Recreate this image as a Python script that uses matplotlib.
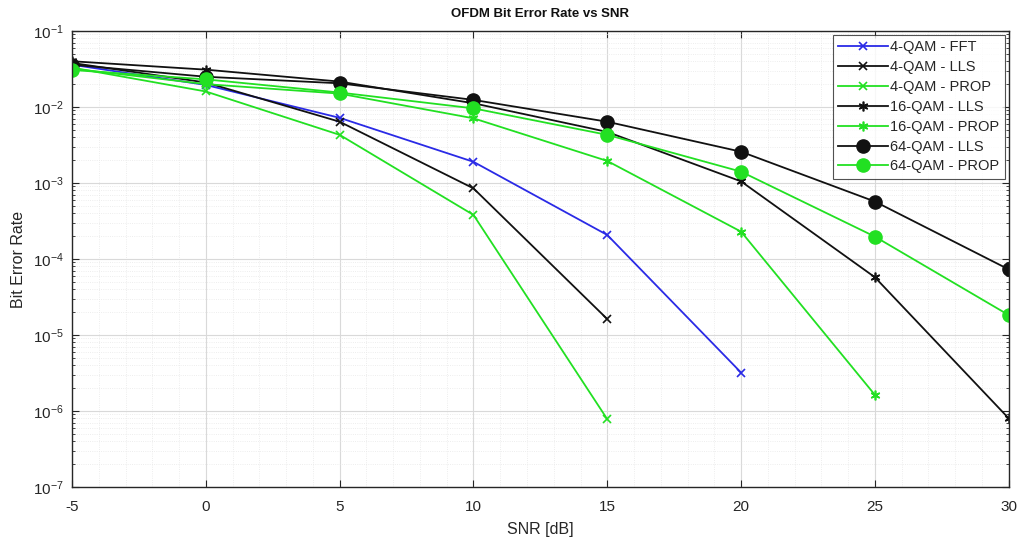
import numpy as np
import matplotlib
matplotlib.use("Agg")
import matplotlib.pyplot as plt
from matplotlib.ticker import LogLocator, NullFormatter, FixedLocator

# SNR sweep (dB)
snr = [-5, 0, 5, 10, 15, 20, 25, 30]

# Measured bit error rates per scheme (shorter lists: no errors at higher SNR)
ber_4qam_fft = [0.036, 0.0195, 0.0072, 0.0019, 2.07e-4, 3.2e-6]
ber_4qam_lls = [0.038, 0.021, 0.0064, 8.5e-4, 1.62e-5]
ber_4qam_prop = [0.033, 0.016, 0.0043, 3.8e-4, 7.8e-7]
ber_16qam_lls = [0.040, 0.031, 0.0216, 0.0112, 0.0047, 0.00105, 5.75e-5, 8.0e-7]
ber_16qam_prop = [0.032, 0.020, 0.015, 0.0071, 0.00195, 2.29e-4, 1.63e-6]
ber_64qam_lls = [0.036, 0.025, 0.0205, 0.0124, 0.0064, 0.00258, 5.7e-4, 7.3e-5]
ber_64qam_prop = [0.0307, 0.0231, 0.0155, 0.0096, 0.0043, 0.00141, 1.97e-4, 1.83e-5]

labels = ["4-QAM - FFT", "4-QAM - LLS", "4-QAM - PROP", "16-QAM - LLS",
          "16-QAM - PROP", "64-QAM - LLS", "64-QAM - PROP"]

BLUE = "#2a2ae6"
GREEN = "#22e022"
BLACK = "#111111"
ASTERISK = (6, 2, 0)

series = [
    (ber_4qam_fft, dict(color=BLUE, marker="x", ms=6, mew=1.2)),
    (ber_4qam_lls, dict(color=BLACK, marker="x", ms=6, mew=1.2)),
    (ber_4qam_prop, dict(color=GREEN, marker="x", ms=6, mew=1.2)),
    (ber_16qam_lls, dict(color=BLACK, marker=ASTERISK, ms=7, mew=1.2)),
    (ber_16qam_prop, dict(color=GREEN, marker=ASTERISK, ms=7, mew=1.2)),
    (ber_64qam_lls, dict(color=BLACK, marker="o", ms=9.5, mew=1.0)),
    (ber_64qam_prop, dict(color=GREEN, marker="o", ms=9.5, mew=1.0)),
]

plt.rcParams["font.family"] = ["Liberation Sans", "DejaVu Sans"]
plt.rcParams["axes.unicode_minus"] = False

fig = plt.figure(figsize=(10.22, 5.41), dpi=100)
ax = fig.add_axes([0.0705, 0.0998, 0.9165, 0.8429])

for (vals, style), lab in zip(series, labels):
    ax.semilogy(snr[:len(vals)], vals, linestyle="-", lw=1.3,
                markerfacecolor=style["color"], markeredgecolor=style["color"],
                label=lab, **style)

ax.set_xlim(-5, 30)
ax.set_ylim(1e-7, 1e-1)
ax.set_xticks([-5, 0, 5, 10, 15, 20, 25, 30])
ax.yaxis.set_major_locator(LogLocator(base=10, numticks=10))
ax.yaxis.set_minor_locator(LogLocator(base=10, subs=np.arange(2, 10), numticks=100))
ax.yaxis.set_minor_formatter(NullFormatter())
ax.xaxis.set_minor_locator(FixedLocator(np.arange(-5, 30.01, 1.0)))

ax.grid(True, which="major", color="#d9d9d9", lw=0.8)
ax.grid(True, which="minor", color="#e8e8e8", lw=0.6, linestyle=":")
ax.set_axisbelow(True)

ax.tick_params(which="both", direction="in", top=True, right=True,
               colors="#262626", labelsize=11)
ax.tick_params(which="major", length=5)
ax.tick_params(which="minor", length=2.5)
ax.tick_params(axis="x", which="major", pad=9)
ax.tick_params(axis="y", which="major", pad=6)
ax.tick_params(axis="x", which="minor", length=0)
for s in ax.spines.values():
    s.set_color("#262626")
    s.set_linewidth(1.0)

ax.set_title("OFDM Bit Error Rate vs SNR", fontsize=9.5, fontweight="bold",
             color="#111111", pad=10)
ax.set_xlabel("SNR [dB]", fontsize=11.5, color="#262626", labelpad=6)
ax.set_ylabel("Bit Error Rate", fontsize=11.5, color="#262626", labelpad=5)

leg = ax.legend(loc="upper right", fontsize=10.5, frameon=True, fancybox=False,
                edgecolor="#262626", borderpad=0.4, labelspacing=0.4,
                handlelength=3.4, handletextpad=0.15, borderaxespad=0.25)
leg.get_frame().set_linewidth(0.8)
for t in leg.get_texts():
    t.set_color("#262626")

fig.savefig("out.png", dpi=100, facecolor="white")
